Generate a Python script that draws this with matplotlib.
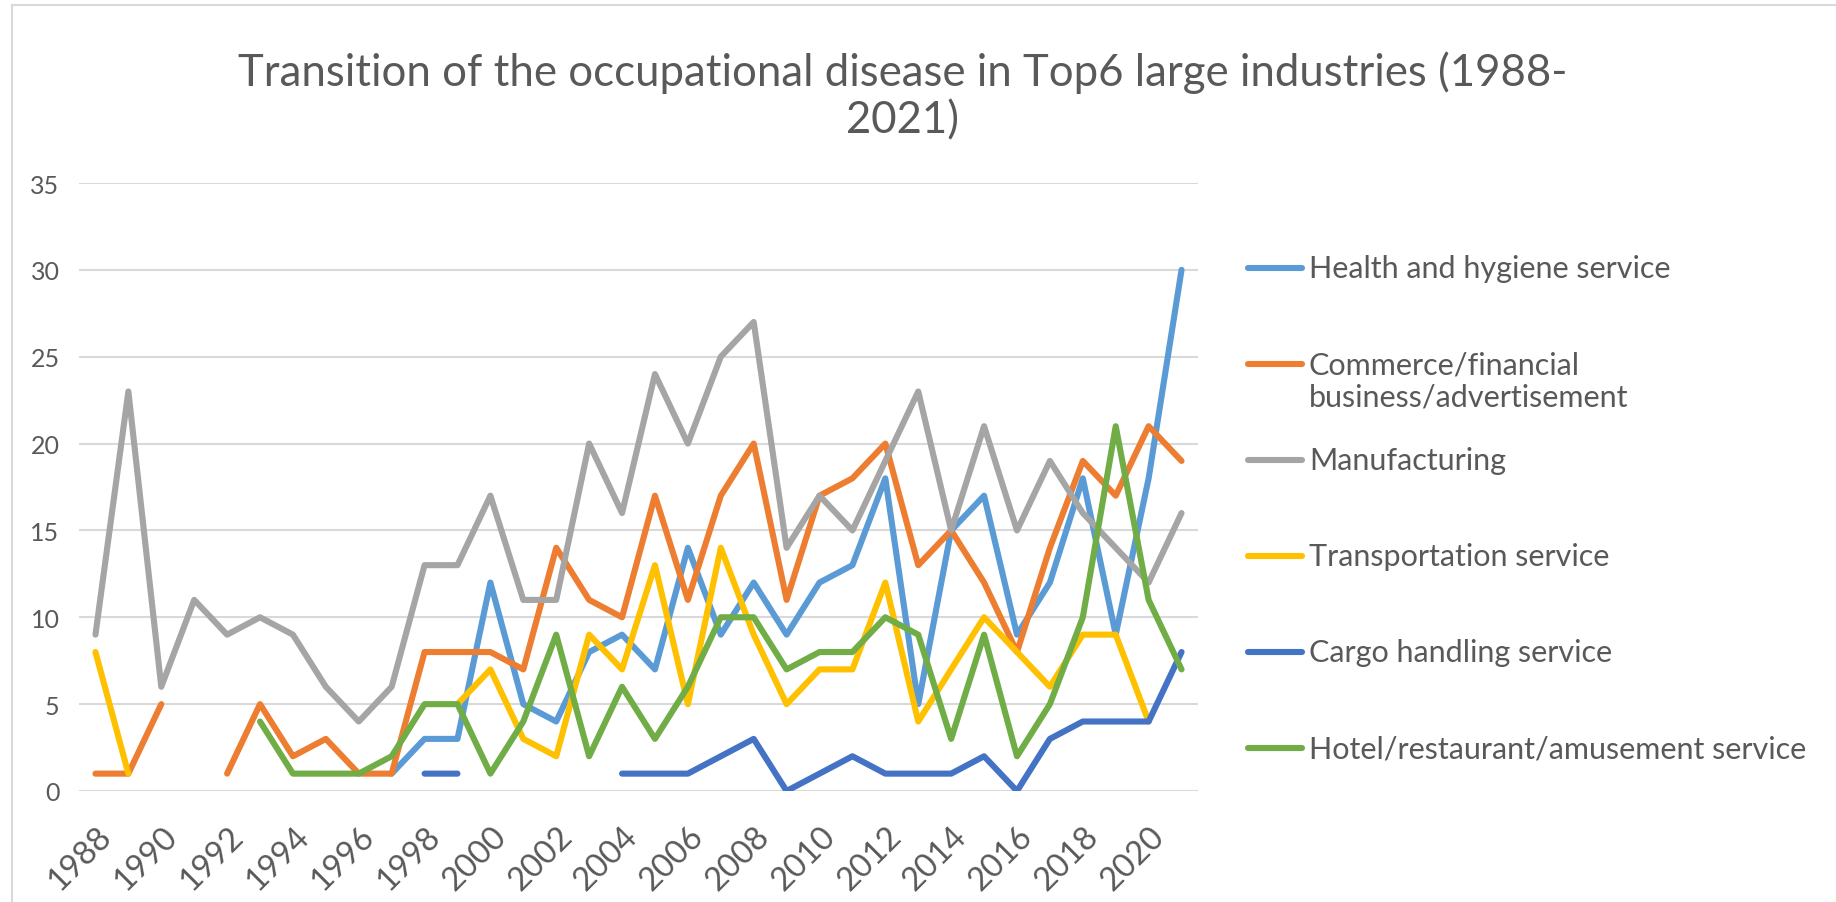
# Occupational disease in top 6 industries, 1988-2021 (Excel-style line chart)

import numpy as np
import matplotlib
matplotlib.use("Agg")
import matplotlib.pyplot as plt
from matplotlib.lines import Line2D
from matplotlib.transforms import ScaledTranslation

nan = np.nan

# ==============================
# DATA
# ==============================

years = list(range(1988, 2022))

health = [nan] * 9 + [1, 3, 3, 12, 5, 4, 8, 9, 7, 14, 9, 12, 9, 12, 13, 18, 5,
                      15, 17, 9, 12, 18, 9, 18, 30]
commerce = [1, 1, 5, nan, 1, 5, 2, 3, 1, 1, 8, 8, 8, 7, 14, 11, 10, 17, 11, 17,
            20, 11, 17, 18, 20, 13, 15, 12, 8, 14, 19, 17, 21, 19]
manufacturing = [9, 23, 6, 11, 9, 10, 9, 6, 4, 6, 13, 13, 17, 11, 11, 20, 16, 24,
                 20, 25, 27, 14, 17, 15, 19, 23, 15, 21, 15, 19, 16, 14, 12, 16]
transport = [8, 1] + [nan] * 9 + [5, 7, 3, 2, 9, 7, 13, 5, 14, 9, 5, 7, 7, 12, 4,
                                  7, 10, 8, 6, 9, 9, 4, nan]
cargo = [nan] * 10 + [1, 1] + [nan] * 4 + [1, 1, 1, 2, 3, 0, 1, 2, 1, 1, 1, 2, 0,
                                           3, 4, 4, 4, 8]
hotel = [nan] * 5 + [4, 1, 1, 1, 2, 5, 5, 1, 4, 9, 2, 6, 3, 6, 10, 10, 7, 8, 8,
                     10, 9, 3, 9, 2, 5, 10, 21, 11, 7]

labels = ["Health and hygiene service",
          "Commerce/financial\nbusiness/advertisement",
          "Manufacturing",
          "Transportation service",
          "Cargo handling service",
          "Hotel/restaurant/amusement service"]
colors = ["#5B9BD5", "#ED7D31", "#A5A5A5", "#FFC000", "#4472C4", "#70AD47"]
series = [health, commerce, manufacturing, transport, cargo, hotel]

title_lines = ["Transition of the occupational disease in Top6 large industries (1988-",
               "2021)"]

# ==============================
# PLOT
# ==============================

W, H = 1836, 903
txt_color = "#595959"
plt.rcParams["font.family"] = ["Lato", "DejaVu Sans"]

fig = plt.figure(figsize=(W / 100, H / 100), dpi=100)
ax = fig.add_axes([79 / W, 1 - 792 / H, (1198 - 79) / W, (792 - 184) / H])

x = np.arange(len(years))
for vals, col in zip(series, colors):
    ax.plot(x, vals, color=col, lw=4.4, solid_capstyle="round",
            solid_joinstyle="round")

ax.set_xlim(-0.5, len(years) - 0.5)
ax.set_ylim(0, 35)
ax.set_yticks(range(0, 36, 5))
ax.set_xticks(x[::2])
ax.set_xticklabels([str(y) for y in years[::2]], rotation=45, ha="right",
                   va="center", rotation_mode="anchor")
ax.tick_params(axis="both", length=0, labelcolor=txt_color)
ax.tick_params(axis="y", pad=14, labelsize=18)
ax.tick_params(axis="x", pad=29, labelsize=23.5)
shift = ScaledTranslation(0.11, 0, fig.dpi_scale_trans)
for lbl in ax.get_xticklabels():
    lbl.set_transform(lbl.get_transform() + shift)
ax.grid(axis="y", color="#D9D9D9", lw=1.5)
ax.set_axisbelow(True)
for s in ax.spines.values():
    s.set_visible(False)

# title (wrapped over two lines as in the original)
for k, line in enumerate(title_lines):
    fig.text(903 / W, 1 - (86 + 47 * k) / H, line, ha="center", va="baseline",
             fontsize=31.5, color=txt_color)

# legend drawn by hand (Excel places it on the right)
y0, dy = 269, 96
for i, (lab, col) in enumerate(zip(labels, colors)):
    yy = 1 - (y0 + dy * i) / H
    fig.add_artist(Line2D([1248 / W, 1302 / W], [yy, yy], color=col, lw=4.4,
                          solid_capstyle="round", transform=fig.transFigure))
    for k, part in enumerate(lab.split("\n")):
        fig.text(1309 / W, yy - k * 33 / H, part, ha="left", va="center",
                 fontsize=22, color=txt_color)

# chart frame
fig.add_artist(Line2D([12 / W, 12 / W], [0, 1 - 6 / H], color="#D9D9D9", lw=1.5,
                      transform=fig.transFigure))
fig.add_artist(Line2D([12 / W, 1], [1 - 6 / H, 1 - 6 / H], color="#D9D9D9", lw=1.5,
                      transform=fig.transFigure))

fig.savefig("out.png", dpi=100)
